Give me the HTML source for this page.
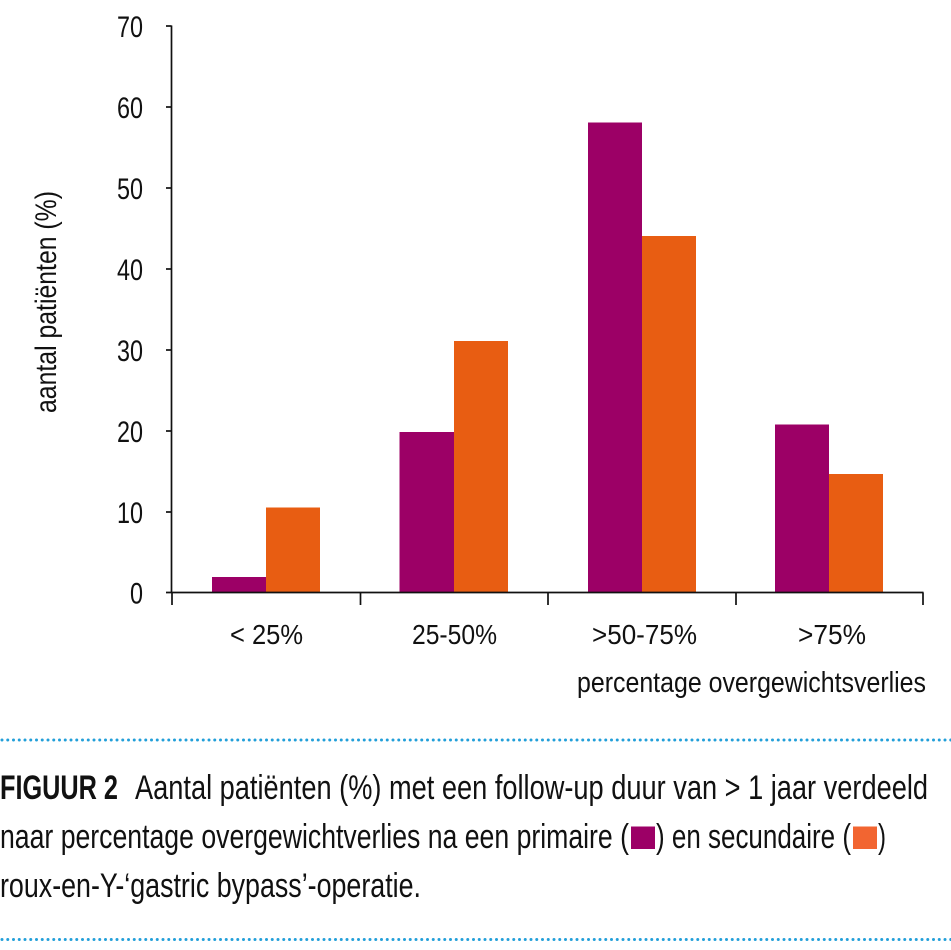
<!DOCTYPE html>
<html>
<head>
<meta charset="utf-8">
<style>
  html, body { margin: 0; padding: 0; background: #ffffff; }
  svg { display: block; }
  text { font-family: "Liberation Sans Narrow", "Liberation Sans", sans-serif; fill: #111; }
</style>
</head>
<body>
<svg width="951" height="950" viewBox="0 0 951 950" xmlns="http://www.w3.org/2000/svg">
  <rect x="0" y="0" width="951" height="950" fill="#ffffff"/>

  <!-- Bars -->
  <g>
    <rect x="212" y="577" width="54" height="15.5" fill="#9c0066"/>
    <rect x="266" y="507.5" width="54" height="85" fill="#e85d12"/>
    <rect x="399.5" y="432" width="54.5" height="160.5" fill="#9c0066"/>
    <rect x="454" y="341" width="54" height="251.5" fill="#e85d12"/>
    <rect x="588" y="122.5" width="54" height="470" fill="#9c0066"/>
    <rect x="642" y="236" width="54" height="356.5" fill="#e85d12"/>
    <rect x="775" y="424.5" width="54" height="168" fill="#9c0066"/>
    <rect x="829" y="474" width="54" height="118.5" fill="#e85d12"/>
  </g>

  <!-- Axes -->
  <g stroke="#111" stroke-width="1.7" fill="none">
    <line x1="171.5" y1="25.5" x2="171.5" y2="593"/>
    <line x1="166" y1="26" x2="171.5" y2="26"/>
    <line x1="166" y1="107" x2="171.5" y2="107"/>
    <line x1="166" y1="188" x2="171.5" y2="188"/>
    <line x1="166" y1="269" x2="171.5" y2="269"/>
    <line x1="166" y1="350" x2="171.5" y2="350"/>
    <line x1="166" y1="431" x2="171.5" y2="431"/>
    <line x1="166" y1="512" x2="171.5" y2="512"/>
    <line x1="166" y1="592.5" x2="923.5" y2="592.5"/>
    <line x1="172" y1="592.5" x2="172" y2="605"/>
    <line x1="360.5" y1="592.5" x2="360.5" y2="605"/>
    <line x1="548" y1="592.5" x2="548" y2="605"/>
    <line x1="736" y1="592.5" x2="736" y2="605"/>
    <line x1="923" y1="592.5" x2="923" y2="605"/>
  </g>

  <!-- Y tick labels -->
  <g font-size="30" text-anchor="end">
    <text x="143" y="37" textLength="26" lengthAdjust="spacingAndGlyphs">70</text>
    <text x="143" y="118" textLength="26" lengthAdjust="spacingAndGlyphs">60</text>
    <text x="143" y="199" textLength="26" lengthAdjust="spacingAndGlyphs">50</text>
    <text x="143" y="280" textLength="26" lengthAdjust="spacingAndGlyphs">40</text>
    <text x="143" y="361" textLength="26" lengthAdjust="spacingAndGlyphs">30</text>
    <text x="143" y="442" textLength="26" lengthAdjust="spacingAndGlyphs">20</text>
    <text x="143" y="523" textLength="26" lengthAdjust="spacingAndGlyphs">10</text>
    <text x="143" y="603.5" textLength="13" lengthAdjust="spacingAndGlyphs">0</text>
  </g>

  <!-- Y axis title -->
  <text transform="translate(56,302) rotate(-90)" font-size="30" text-anchor="middle" textLength="222" lengthAdjust="spacingAndGlyphs">aantal patiënten (%)</text>

  <!-- X tick labels -->
  <g font-size="28">
    <text x="230" y="644" textLength="73" lengthAdjust="spacingAndGlyphs">&lt; 25%</text>
    <text x="412" y="644" textLength="85" lengthAdjust="spacingAndGlyphs">25-50%</text>
    <text x="592" y="644" textLength="105" lengthAdjust="spacingAndGlyphs">&gt;50-75%</text>
    <text x="798" y="644" textLength="68" lengthAdjust="spacingAndGlyphs">&gt;75%</text>
  </g>
  <text x="577" y="692" font-size="29" textLength="349" lengthAdjust="spacingAndGlyphs">percentage overgewichtsverlies</text>

  <!-- Dotted separators -->
  <line x1="2" y1="740" x2="951" y2="740" stroke="#229fd9" stroke-width="3" stroke-linecap="round" stroke-dasharray="0 5.75"/>
  <line x1="2" y1="939.5" x2="951" y2="939.5" stroke="#229fd9" stroke-width="3" stroke-linecap="round" stroke-dasharray="0 5.75"/>

  <!-- Caption -->
  <g font-size="34">
    <text x="0" y="799" font-weight="bold" textLength="118" lengthAdjust="spacingAndGlyphs">FIGUUR 2</text>
    <text x="135" y="799" textLength="793" lengthAdjust="spacingAndGlyphs">Aantal patiënten (%) met een follow-up duur van &gt; 1 jaar verdeeld</text>
    <text x="0" y="848" textLength="629" lengthAdjust="spacingAndGlyphs">naar percentage overgewichtverlies na een primaire (</text>
    <rect x="631" y="826.5" width="24" height="22.5" fill="#9c0066"/>
    <text x="656" y="848" textLength="195" lengthAdjust="spacingAndGlyphs">) en secundaire (</text>
    <rect x="853" y="826.5" width="24" height="22.5" fill="#f26531"/>
    <text x="878" y="848" textLength="8" lengthAdjust="spacingAndGlyphs">)</text>
    <text x="0" y="897" textLength="421" lengthAdjust="spacingAndGlyphs">roux-en-Y-‘gastric bypass’-operatie.</text>
  </g>
</svg>
</body>
</html>
